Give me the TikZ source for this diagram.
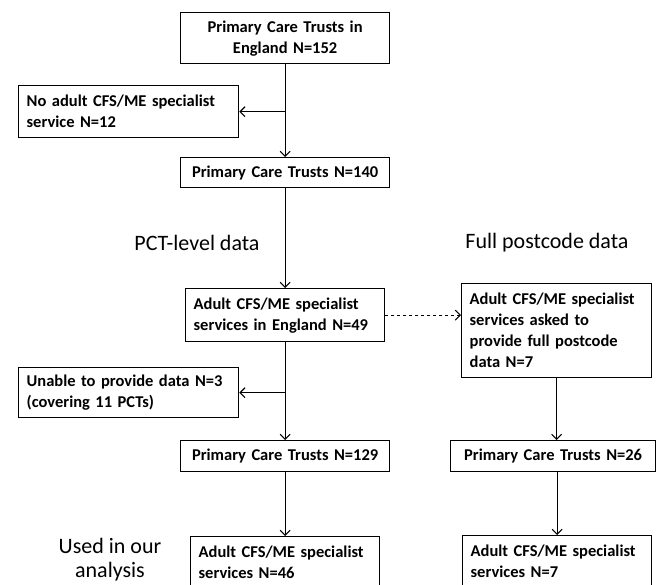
\documentclass[tikz,border=0pt]{standalone}
\usepackage{fontspec}
\setmainfont{Carlito}
\usetikzlibrary{arrows.meta}
\tikzset{
  stage/.style={draw, line width=1.3pt, anchor=north west, inner xsep=8pt, inner ysep=0pt,
    font=\bfseries\fontsize{16.5}{21}\selectfont},
  flow/.style={line width=1.1pt, -{Straight Barb[length=5pt,width=10pt]}},
  heading/.style={font=\fontsize{22}{24}\selectfont, align=center}
}
\begin{document}
\begin{tikzpicture}[x=1pt,y=-1pt]
  \useasboundingbox (0,0) rectangle (656,585);
  \clip (0,0) rectangle (656,585);
  \node (pctAll) [stage,text width=193,minimum height=51,align=center] at (180,12) {Primary Care Trusts in\\England N=152};
  \node (noService) [stage,text width=204,minimum height=52,align=left] at (18,85) {No adult CFS/ME specialist\\service N=12};
  \node (pct140) [stage,text width=193,minimum height=30,align=center] at (180,157) {Primary Care Trusts N=140};
  \node (servEngland) [stage,text width=183,minimum height=53,align=left] at (185,288) {Adult CFS/ME specialist\\services in England N=49};
  \node (servAsked) [stage,text width=174,minimum height=94,align=left] at (461,283) {Adult CFS/ME specialist\\services asked to\\provide full postcode\\data N=7};
  \node (unable) [stage,text width=204,minimum height=50,align=left] at (18,367) {Unable to provide data N=3\\(covering 11 PCTs)};
  \node (pct129) [stage,text width=193,minimum height=31,align=center] at (180,440) {Primary Care Trusts N=129};
  \node (pct26) [stage,text width=189,minimum height=31,align=center] at (450,440) {Primary Care Trusts N=26};
  \node (servUsed) [stage,text width=173,minimum height=52,align=left] at (190,536) {Adult CFS/ME specialist\\services N=46};
  \node (servPostcode) [stage,text width=173,minimum height=52,align=left] at (462,535) {Adult CFS/ME specialist\\services N=7};

  \node (pctLevel) [heading] at (197,243) {PCT-level data};
  \node (fullPostcode) [heading] at (547,243) {Full postcode data};
  \node (usedIn) [heading] at (110,560) {Used in our\\analysis};

  \draw [flow] (pctAll.south) -- (pct140.north);
  \draw [flow] (pctAll.south |- noService.east) -- (noService.east);
  \draw [flow] (pct140.south) -- (servEngland.north);
  \draw [flow,dashed] (servEngland.east) -- (servEngland.east -| servAsked.west);
  \draw [flow] (servEngland.south) -- (pct129.north);
  \draw [flow] (servEngland.south |- unable.east) -- (unable.east);
  \draw [flow] (pct129.south) -- (pct129.south |- servUsed.north);
  \draw [flow] (servAsked.south) -- (servAsked.south |- pct26.north);
  \draw [flow] (servPostcode.north |- pct26.south) -- (servPostcode.north);
\end{tikzpicture}
\end{document}
